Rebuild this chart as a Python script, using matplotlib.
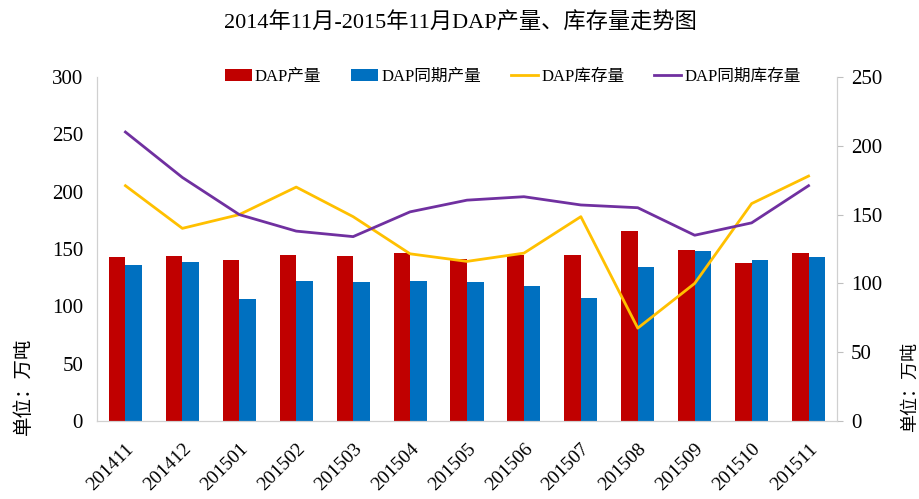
import matplotlib.pyplot as plt
import numpy as np

plt.rcParams['font.family'] = ['Liberation Serif', 'Noto Sans CJK SC', 'DejaVu Sans']

months = ["201411", "201412", "201501", "201502", "201503", "201504", "201505",
          "201506", "201507", "201508", "201509", "201510", "201511"]
output = [143, 144, 140.5, 144.5, 144, 146.5, 141, 144.5, 144.5, 166, 149, 138, 146.5]
output_ly = [136, 139, 106, 122, 121, 122.5, 121.5, 118, 107.5, 134, 148, 140.5, 143]
stock = [171, 140, 150, 170, 148.5, 121.5, 116, 122, 148.5, 67.5, 100, 158, 178]
stock_ly = [210, 177, 150, 138, 134, 152, 160.5, 163, 157, 155, 135, 144, 171]

red = "#C00000"
blue = "#0070C0"
yellow = "#FFC000"
purple = "#7030A0"

fig = plt.figure(figsize=(9.2, 4.99), dpi=100)
ax = fig.add_axes([0.1054, 0.1563, 0.8044, 0.6894])
ax2 = ax.twinx()

x = np.arange(len(months))
w = 0.29
ax.bar(x - w / 2, output, w, color=red, label="DAP产量")
ax.bar(x + w / 2, output_ly, w, color=blue, label="DAP同期产量")
ax2.plot(x, stock, color=yellow, lw=2, label="DAP库存量")
ax2.plot(x, stock_ly, color=purple, lw=2, label="DAP同期库存量")

ax.set_xlim(-0.5, len(months) - 0.5)
ax.set_ylim(0, 300)
ax.set_yticks(range(0, 301, 50))
ax2.set_ylim(0, 250)
ax2.set_yticks(range(0, 251, 50))

ax.set_xticks(x)
ax.set_xticklabels(months, rotation=45, ha="right", rotation_mode="anchor", fontsize=14)
ax.tick_params(axis="x", length=0, pad=14)
ax.tick_params(axis="y", length=0, labelsize=15, pad=10)
ax2.tick_params(axis="y", length=4, color="#BFBFBF", labelsize=15, pad=6)

for a in (ax, ax2):
    for s in a.spines.values():
        s.set_color("#D0D0D0")
    a.spines["top"].set_visible(False)

# both unit labels sit low, near the bottom of the axes
ax.set_ylabel("单位：万吨", fontsize=14)
ax.yaxis.set_label_coords(-0.087, 0.1)
ax2.set_ylabel("单位：万吨", fontsize=13)
ax2.yaxis.set_label_coords(1.088, 0.1)

fig.suptitle("2014年11月-2015年11月DAP产量、库存量走势图", fontsize=16, y=0.975)

h1, l1 = ax.get_legend_handles_labels()
h2, l2 = ax2.get_legend_handles_labels()
ax2.legend(h1 + h2, l1 + l2, loc="center", bbox_to_anchor=(0.562, 1.0), ncol=4,
           frameon=False, fontsize=12, handlelength=1.6, handletextpad=0.2,
           columnspacing=1.8)

fig.savefig("out.png", dpi=100)
